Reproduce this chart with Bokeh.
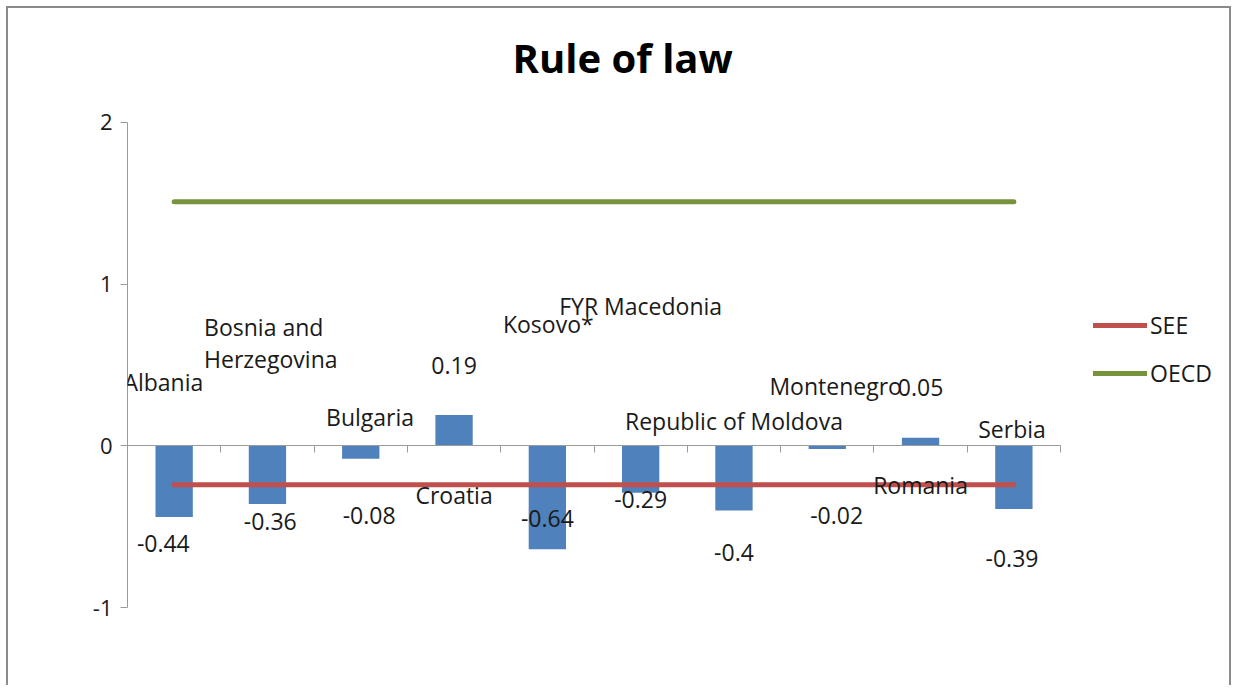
from bokeh.plotting import figure
from bokeh.models import (ColumnDataSource, FixedTicker, Range1d, Legend, LegendItem,
                          PrintfTickFormatter, CustomJSTickFormatter, LabelSet, Label)
from bokeh.core.properties import value
from bokeh.embed import file_html
from bokeh.resources import INLINE

# ---- data ----
title_text = "Rule of law"
countries = ["Albania", "Bosnia and\nHerzegovina", "Bulgaria", "Croatia", "Kosovo*",
             "FYR Macedonia", "Republic of Moldova", "Montenegro", "Romania", "Serbia"]
rule_of_law = [-0.44, -0.36, -0.08, 0.19, -0.64, -0.29, -0.40, -0.02, 0.05, -0.39]
value_text = ["-0.44", "-0.36", "-0.08", "0.19", "-0.64", "-0.29", "-0.4", "-0.02", "0.05", "-0.39"]
see_avg = [-0.24, -0.24, -0.24, -0.24, -0.24, -0.24, -0.24, -0.24, -0.24, -0.24]
oecd_avg = [1.51, 1.51, 1.51, 1.51, 1.51, 1.51, 1.51, 1.51, 1.51, 1.51]
y_ticks = [-1, 0, 1, 2]

# ---- layout of the (hand-placed) data labels, in axis units ----
name_label_x = [0.384, 1.536, 2.60, 3.50, 4.51, 5.50, 6.50, 7.59, 8.50, 9.48]
name_label_y = [0.393, 0.634, 0.179, -0.303, 0.754, 0.866, 0.155, 0.371, -0.241, 0.105]
value_label_x = [0.384, 1.53, 2.59, 3.50, 4.50, 5.50, 6.50, 7.60, 8.50, 9.48]
value_label_y = [-0.606, -0.470, -0.433, 0.495, -0.451, -0.334, -0.662, -0.433, 0.359, -0.699]
title_pos = (5.307, 2.40)

n = len(countries)
xpos = [i + 0.5 for i in range(n)]
x_extent = 11.854  # category axis plus the room kept for the legend on the right
y_top = 2.705      # value axis plus the room kept for the title above

FONT = "Open Sans"
src = ColumnDataSource(dict(x=xpos, v=rule_of_law, see=see_avg, oecd=oecd_avg))
name_src = ColumnDataSource(dict(x=name_label_x, y=name_label_y, t=countries))
val_src = ColumnDataSource(dict(x=value_label_x, y=value_label_y, t=value_text))

p = figure(width=1225, height=679, output_backend="svg", toolbar_location=None,
           x_range=Range1d(0, x_extent), y_range=Range1d(-1, y_top),
           min_border_left=119, min_border_right=0, min_border_top=0, min_border_bottom=80)
p.styles = {"margin-left": "6px", "margin-top": "6px",
            "border-left": "2px solid #8a8a8a", "border-top": "2px solid #8a8a8a",
            "border-right": "2px solid #8a8a8a"}

p.outline_line_color = None
p.grid.visible = False
p.background_fill_color = "white"
p.border_fill_color = "white"

bars = p.vbar(x="x", top="v", bottom=0, width=0.4, source=src,
              fill_color="#4F81BD", line_color=None)
see_r = p.line(x="x", y="see", source=src, line_color="#C0504D", line_width=5, line_cap="round")
oecd_r = p.line(x="x", y="oecd", source=src, line_color="#77933C", line_width=5, line_cap="round")

# y axis
p.yaxis.bounds = (y_ticks[0], y_ticks[-1])
p.yaxis.ticker = FixedTicker(ticks=y_ticks)
p.yaxis.formatter = PrintfTickFormatter(format="%d")
p.yaxis.axis_line_color = "#9a9a9a"
p.yaxis.major_tick_line_color = "#9a9a9a"
p.yaxis.major_tick_out = 7
p.yaxis.major_tick_in = 0
p.yaxis.minor_tick_line_color = None
p.yaxis.major_label_text_font = FONT
p.yaxis.major_label_text_font_size = "22px"
p.yaxis.major_label_text_color = "#1a1a1a"
p.yaxis.major_label_standoff = 8

# x axis drawn at y = 0, ticks between categories, no labels
p.xaxis.fixed_location = 0
p.xaxis.bounds = (0, n)
p.xaxis.ticker = FixedTicker(ticks=list(range(n + 1)))
p.xaxis.formatter = CustomJSTickFormatter(code="return '';")
p.xaxis.axis_line_color = "#9a9a9a"
p.xaxis.major_tick_line_color = "#9a9a9a"
p.xaxis.major_tick_out = 7
p.xaxis.major_tick_in = 0
p.xaxis.minor_tick_line_color = None

# title
p.add_layout(Label(x=title_pos[0], y=title_pos[1], text=title_text, text_font=FONT,
                   text_font_size="40px", text_font_style="bold", text_color="#000000",
                   text_align="center", text_baseline="middle"))

# data labels
p.add_layout(LabelSet(x="x", y="y", text="t", source=name_src, text_font=value(FONT),
                      text_font_size="23px", text_align="center", text_baseline="middle",
                      text_color="#1a1a1a", text_line_height=1.0))
p.add_layout(LabelSet(x="x", y="y", text="t", source=val_src, text_font=value(FONT),
                      text_font_size="23px", text_align="center", text_baseline="middle",
                      text_color="#1a1a1a"))

legend = Legend(items=[LegendItem(label="SEE", renderers=[see_r]),
                       LegendItem(label="OECD", renderers=[oecd_r])],
                location=(966, 218), orientation="vertical",
                border_line_color=None, background_fill_alpha=0,
                label_text_font=FONT, label_text_font_size="23px", label_text_color="#1a1a1a",
                glyph_width=54, glyph_height=22, label_standoff=3, spacing=16,
                padding=0, margin=0, label_height=22)
p.add_layout(legend, "center")

open("out.html", "w").write(file_html(p, INLINE))
